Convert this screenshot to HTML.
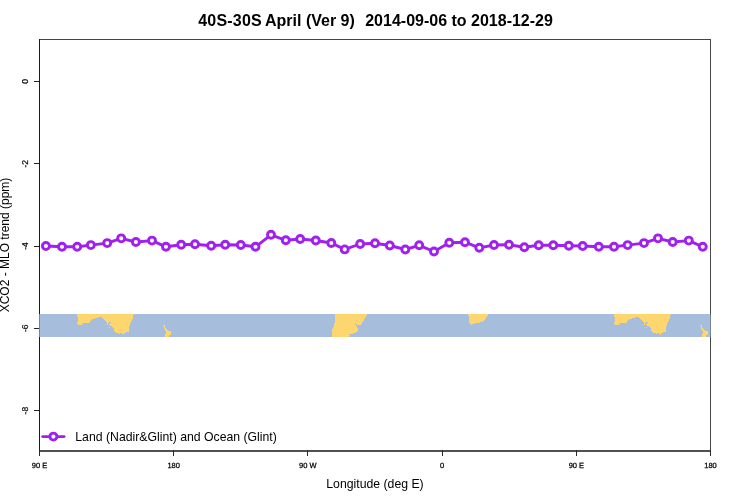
<!DOCTYPE html>
<html><head><meta charset="utf-8"><style>
html,body{margin:0;padding:0;background:#fff;}
svg{display:block;will-change:transform;}
text{font-family:"Liberation Sans",sans-serif;fill:#000;}
</style></head><body>
<svg width="750" height="500" viewBox="0 0 750 500">
<rect x="0" y="0" width="750" height="500" fill="#fff"/>
<text y="26" style="font-weight:bold;font-size:16px"><tspan x="198.2" style="letter-spacing:0.2px">40S-30S</tspan><tspan x="265.0">April (Ver 9)</tspan></text>
<text x="552.9" y="26" text-anchor="end" style="font-weight:bold;font-size:16px">2014-09-06 to 2018-12-29</text>
<g shape-rendering="crispEdges">
<rect x="39" y="39" width="672" height="1" fill="#444"/>
<rect x="710" y="39" width="1" height="412" fill="#484848"/>
<rect x="39" y="39" width="1" height="412" fill="#1a1a1a"/>
<rect x="40" y="450" width="671" height="2" fill="#505050"/>
<rect x="34" y="81" width="5" height="1" fill="#222"/><rect x="34" y="163" width="5" height="1" fill="#222"/><rect x="34" y="246" width="5" height="1" fill="#222"/><rect x="34" y="328" width="5" height="1" fill="#222"/><rect x="34" y="410" width="5" height="1" fill="#222"/>
<rect x="39" y="450" width="1" height="6" fill="#2a2a2a"/><rect x="173" y="450" width="1" height="6" fill="#2a2a2a"/><rect x="307" y="450" width="1" height="6" fill="#2a2a2a"/><rect x="442" y="450" width="1" height="6" fill="#2a2a2a"/><rect x="576" y="450" width="1" height="6" fill="#2a2a2a"/><rect x="710" y="450" width="1" height="6" fill="#2a2a2a"/>
</g>
<g style="font-size:8.5px;text-rendering:geometricPrecision;stroke:#000;stroke-width:0.2px"><text transform="translate(28.3,81.4) rotate(-90)" text-anchor="middle">0</text><text transform="translate(28.3,163.7) rotate(-90)" text-anchor="middle">-2</text><text transform="translate(28.3,246.0) rotate(-90)" text-anchor="middle">-4</text><text transform="translate(28.3,328.3) rotate(-90)" text-anchor="middle">-6</text><text transform="translate(28.3,410.6) rotate(-90)" text-anchor="middle">-8</text></g><g style="font-size:7.5px;text-rendering:geometricPrecision;stroke:#000;stroke-width:0.25px"><text x="39.5" y="467.7" text-anchor="middle">90 E</text><text x="173.7" y="467.7" text-anchor="middle">180</text><text x="307.8" y="467.7" text-anchor="middle">90 W</text><text x="442.2" y="467.7" text-anchor="middle">0</text><text x="576.4" y="467.7" text-anchor="middle">90 E</text><text x="710.5" y="467.7" text-anchor="middle">180</text></g>
<rect x="39" y="314" width="672" height="23" fill="#A6BDDB" shape-rendering="crispEdges"/>
<rect x="39" y="314" width="1" height="23" fill="#74849A" shape-rendering="crispEdges"/>
<rect x="710" y="314" width="1" height="23" fill="#74849A" shape-rendering="crispEdges"/>
<g fill="#FED670" shape-rendering="crispEdges"><polygon points="76.9,314.0 133.9,314.0 133.1,315.1 132.9,319.0 131.8,320.3 131.0,321.9 130.0,323.4 129.5,326.0 129.0,331.3 127.4,332.0 124.8,332.8 123.8,334.9 122.5,333.9 121.2,333.1 119.6,333.9 118.0,333.3 116.0,332.3 114.1,330.7 113.9,328.1 112.8,327.1 110.8,326.0 110.0,325.3 109.2,324.5 110.2,323.4 110.8,322.4 109.2,322.1 108.2,323.2 107.6,324.7 106.9,324.2 106.6,321.6 105.0,320.3 103.9,319.3 102.9,318.2 101.0,317.2 99.0,317.0 97.9,318.1 96.1,318.2 92.2,319.0 91.2,320.1 90.1,321.4 89.9,322.9 82.8,323.2 81.8,324.7 77.9,325.0 76.9,323.7 76.9,321.9 77.9,321.4 77.9,317.2 76.9,316.7"/><polygon points="109.0,327.0 110.3,327.0 110.3,328.2 109.0,328.2"/><polygon points="162.5,325.0 165.0,325.0 165.2,328.0 167.2,329.5 168.3,331.5 170.0,330.8 171.0,331.0 171.0,334.5 169.2,335.2 169.0,337.0 165.5,337.0 165.0,334.3 165.8,333.3 165.5,330.5 163.8,328.5 163.8,326.2 162.5,326.2"/><polygon points="335.0,314.0 367.0,314.0 366.7,315.7 365.0,318.0 363.7,320.3 362.0,322.7 361.0,324.7 357.7,325.0 356.0,323.7 355.3,323.0 355.7,324.7 357.0,326.3 357.7,328.0 358.0,329.7 357.0,332.0 354.3,333.3 349.7,334.0 349.0,335.0 349.7,335.7 349.0,337.0 332.0,337.0 332.0,331.0 332.7,328.7 333.3,327.3 334.0,325.3 334.3,324.0 335.0,320.0 335.7,319.3 335.0,318.3"/><polygon points="468.1,314.0 488.1,314.0 488.1,315.4 486.0,317.7 485.5,319.0 482.9,321.9 480.0,322.1 479.8,322.9 475.1,323.2 474.6,324.0 472.5,324.2 471.4,325.0 469.9,323.7 469.1,321.9 468.8,316.7 468.1,315.6"/><polygon points="613.9,314.0 670.9,314.0 670.1,315.1 669.9,319.0 668.8,320.3 668.0,321.9 667.0,323.4 666.5,326.0 666.0,331.3 664.4,332.0 661.8,332.8 660.8,334.9 659.5,333.9 658.2,333.1 656.6,333.9 655.0,333.3 653.0,332.3 651.1,330.7 650.9,328.1 649.8,327.1 647.8,326.0 647.0,325.3 646.2,324.5 647.2,323.4 647.8,322.4 646.2,322.1 645.2,323.2 644.6,324.7 643.9,324.2 643.6,321.6 642.0,320.3 640.9,319.3 639.9,318.2 638.0,317.2 636.0,317.0 634.9,318.1 633.1,318.2 629.2,319.0 628.2,320.1 627.1,321.4 626.9,322.9 619.8,323.2 618.8,324.7 614.9,325.0 613.9,323.7 613.9,321.9 614.9,321.4 614.9,317.2 613.9,316.7"/><polygon points="646.0,327.0 647.3,327.0 647.3,328.2 646.0,328.2"/><polygon points="699.5,325.0 702.0,325.0 702.2,328.0 704.2,329.5 705.3,331.5 707.0,330.8 708.0,331.0 708.0,334.5 706.2,335.2 706.0,337.0 702.5,337.0 702.0,334.3 702.8,333.3 702.5,330.5 700.8,328.5 700.8,326.2 699.5,326.2"/></g>
<g fill="#fff" stroke="#A020F0" stroke-width="2.9">
<polyline points="45.90,246.00 62.00,246.80 77.20,246.80 90.85,245.10 107.20,243.10 121.20,238.35 135.90,242.00 152.00,240.60 165.95,246.80 181.20,244.80 195.00,244.20 211.20,245.80 225.20,244.70 240.80,245.00 255.50,246.80 271.00,234.80 285.80,240.30 300.20,239.00 315.80,240.50 331.30,243.00 344.70,249.40 360.20,244.00 375.00,243.30 389.80,245.50 405.30,249.50 419.20,245.30 434.00,251.50 449.30,242.70 465.00,242.20 479.30,247.80 494.00,245.00 509.00,244.70 524.30,247.20 538.70,245.30 553.30,245.30 568.80,245.80 582.70,246.00 598.80,246.80 614.00,246.80 627.65,245.10 644.00,243.10 658.00,238.35 672.70,242.00 688.80,240.60 702.75,246.80" fill="none" stroke-linejoin="round"/>
<circle cx="45.90" cy="246.00" r="3.5"/><circle cx="62.00" cy="246.80" r="3.5"/><circle cx="77.20" cy="246.80" r="3.5"/><circle cx="90.85" cy="245.10" r="3.5"/><circle cx="107.20" cy="243.10" r="3.5"/><circle cx="121.20" cy="238.35" r="3.5"/><circle cx="135.90" cy="242.00" r="3.5"/><circle cx="152.00" cy="240.60" r="3.5"/><circle cx="165.95" cy="246.80" r="3.5"/><circle cx="181.20" cy="244.80" r="3.5"/><circle cx="195.00" cy="244.20" r="3.5"/><circle cx="211.20" cy="245.80" r="3.5"/><circle cx="225.20" cy="244.70" r="3.5"/><circle cx="240.80" cy="245.00" r="3.5"/><circle cx="255.50" cy="246.80" r="3.5"/><circle cx="271.00" cy="234.80" r="3.5"/><circle cx="285.80" cy="240.30" r="3.5"/><circle cx="300.20" cy="239.00" r="3.5"/><circle cx="315.80" cy="240.50" r="3.5"/><circle cx="331.30" cy="243.00" r="3.5"/><circle cx="344.70" cy="249.40" r="3.5"/><circle cx="360.20" cy="244.00" r="3.5"/><circle cx="375.00" cy="243.30" r="3.5"/><circle cx="389.80" cy="245.50" r="3.5"/><circle cx="405.30" cy="249.50" r="3.5"/><circle cx="419.20" cy="245.30" r="3.5"/><circle cx="434.00" cy="251.50" r="3.5"/><circle cx="449.30" cy="242.70" r="3.5"/><circle cx="465.00" cy="242.20" r="3.5"/><circle cx="479.30" cy="247.80" r="3.5"/><circle cx="494.00" cy="245.00" r="3.5"/><circle cx="509.00" cy="244.70" r="3.5"/><circle cx="524.30" cy="247.20" r="3.5"/><circle cx="538.70" cy="245.30" r="3.5"/><circle cx="553.30" cy="245.30" r="3.5"/><circle cx="568.80" cy="245.80" r="3.5"/><circle cx="582.70" cy="246.00" r="3.5"/><circle cx="598.80" cy="246.80" r="3.5"/><circle cx="614.00" cy="246.80" r="3.5"/><circle cx="627.65" cy="245.10" r="3.5"/><circle cx="644.00" cy="243.10" r="3.5"/><circle cx="658.00" cy="238.35" r="3.5"/><circle cx="672.70" cy="242.00" r="3.5"/><circle cx="688.80" cy="240.60" r="3.5"/><circle cx="702.75" cy="246.80" r="3.5"/>
</g>
<g stroke="#A020F0" fill="none" stroke-width="2.9">
<line x1="42.7" y1="436.6" x2="64.1" y2="436.6" stroke-linecap="round"/>
<circle cx="53.4" cy="436.6" r="3.5" fill="#fff"/>
</g>
<text x="75.3" y="441" style="font-size:12.25px">Land (Nadir&amp;Glint) and Ocean (Glint)</text>
<text x="375" y="488" text-anchor="middle" style="font-size:12.25px">Longitude (deg E)</text>
<text transform="translate(9,245) rotate(-90)" text-anchor="middle" style="font-size:12px">XCO2 - MLO trend (ppm)</text>
</svg>
</body></html>
